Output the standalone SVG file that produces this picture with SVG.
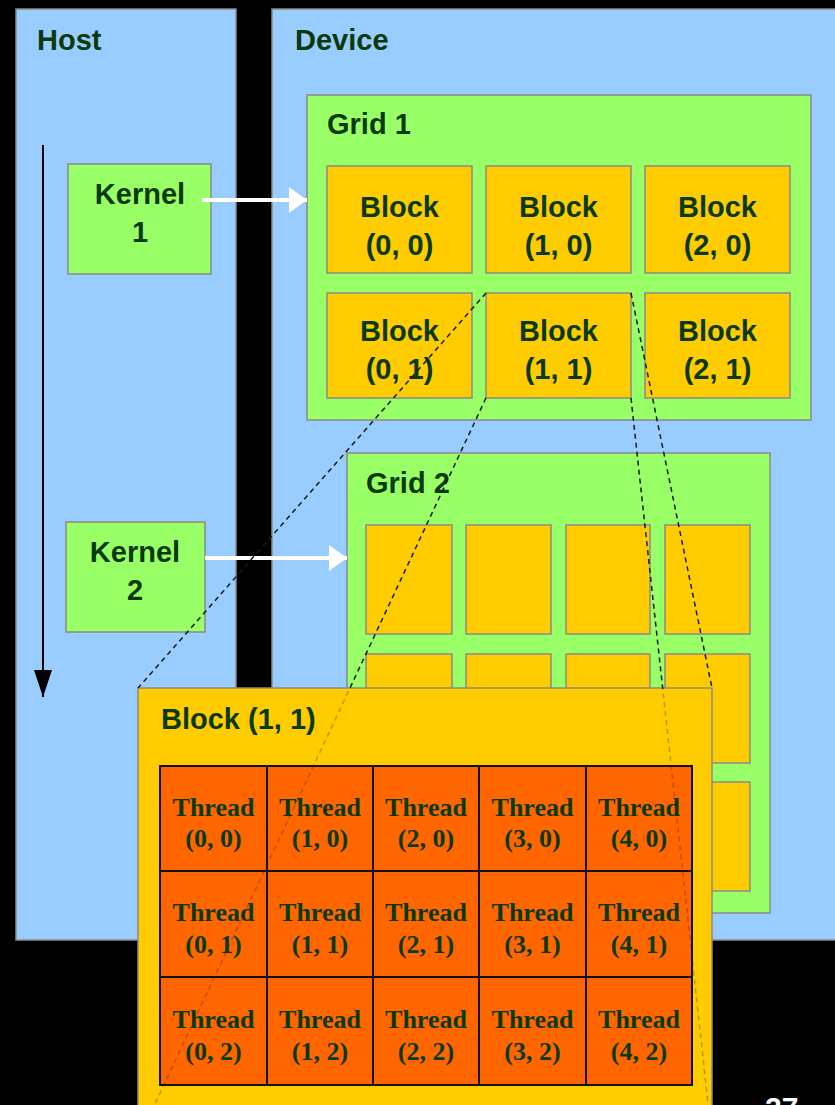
<svg xmlns="http://www.w3.org/2000/svg" width="835" height="1105" viewBox="0 0 835 1105">
  <style>
    .panel { fill: #99ccff; stroke: #8a8a8a; stroke-width: 1.5; }
    .grid { fill: #99ff66; stroke: #8a8a8a; stroke-width: 1.5; }
    .blk { fill: #ffcc00; stroke: #8a8a8a; stroke-width: 1.5; }
    .kern { fill: #99ff66; stroke: #8a8a8a; stroke-width: 1.5; }
    .cell { fill: #ff6600; stroke: #111; stroke-width: 2; }
    .lbl { font-family: "Liberation Sans", Arial, sans-serif; font-weight: bold; font-size: 29px; fill: #0a3a0a; }
    .mid { text-anchor: middle; }
    .thr { font-family: "Liberation Serif", "Times New Roman", serif; font-weight: bold; font-size: 26px; fill: #0a3a0a; text-anchor: middle; }
    .dash { fill: none; stroke: #1a1a1a; stroke-width: 1.5; stroke-dasharray: 5 4; }
    .warrow { stroke: #ffffff; stroke-width: 4; fill: none; }
  </style>
  <defs>
    <marker id="whead" markerUnits="userSpaceOnUse" markerWidth="18" markerHeight="26" refX="18" refY="13" orient="auto">
      <path d="M0,0 L18,13 L0,26 Z" fill="#ffffff"/>
    </marker>
    <marker id="bhead" markerUnits="userSpaceOnUse" markerWidth="18" markerHeight="27" refX="9" refY="27" orient="0">
      <path d="M0,0 L18,0 L9,27 Z" fill="#000000"/>
    </marker>
    <mask id="fadeMask" maskUnits="userSpaceOnUse" x="0" y="0" width="835" height="1105">
      <rect x="0" y="0" width="835" height="1105" fill="#ffffff"/>
      <rect x="139" y="689" width="573" height="460" fill="#4a4a4a"/>
    </mask>
  </defs>

  <rect x="0" y="0" width="835" height="1105" fill="#000000"/>

  <g id="host">
    <rect class="panel" x="16" y="9" width="220" height="931"/>
    <text class="lbl" x="37" y="50">Host</text>
  </g>
  <g id="device">
    <rect class="panel" x="272" y="9" width="570" height="931"/>
    <text class="lbl" x="295" y="50">Device</text>
  </g>

  <g id="time-arrow">
    <line x1="43" y1="145" x2="43" y2="697" stroke="#000" stroke-width="2" marker-end="url(#bhead)"/>
  </g>

  <g id="kernel1">
    <rect class="kern" x="68" y="164" width="143" height="110"/>
    <text class="lbl mid" x="140" y="204">Kernel</text>
    <text class="lbl mid" x="140" y="242">1</text>
  </g>
  <g id="kernel2">
    <rect class="kern" x="66" y="522" width="139" height="110"/>
    <text class="lbl mid" x="135" y="562">Kernel</text>
    <text class="lbl mid" x="135" y="600">2</text>
  </g>

  <g id="grid1">
    <rect class="grid" x="307" y="95" width="504" height="325"/>
    <text class="lbl" x="327" y="134">Grid 1</text>
  </g>
  <g id="g1-block-0-0">
    <rect class="blk" x="327" y="166" width="145" height="107"/>
    <text class="lbl mid" x="399.5" y="217">Block</text>
    <text class="lbl mid" x="399.5" y="255">(0, 0)</text>
  </g>
  <g id="g1-block-1-0">
    <rect class="blk" x="486" y="166" width="145" height="107"/>
    <text class="lbl mid" x="558.5" y="217">Block</text>
    <text class="lbl mid" x="558.5" y="255">(1, 0)</text>
  </g>
  <g id="g1-block-2-0">
    <rect class="blk" x="645" y="166" width="145" height="107"/>
    <text class="lbl mid" x="717.5" y="217">Block</text>
    <text class="lbl mid" x="717.5" y="255">(2, 0)</text>
  </g>
  <g id="g1-block-0-1">
    <rect class="blk" x="327" y="293" width="145" height="105"/>
    <text class="lbl mid" x="399.5" y="341">Block</text>
    <text class="lbl mid" x="399.5" y="379">(0, 1)</text>
  </g>
  <g id="g1-block-1-1">
    <rect class="blk" x="486" y="293" width="145" height="105"/>
    <text class="lbl mid" x="558.5" y="341">Block</text>
    <text class="lbl mid" x="558.5" y="379">(1, 1)</text>
  </g>
  <g id="g1-block-2-1">
    <rect class="blk" x="645" y="293" width="145" height="105"/>
    <text class="lbl mid" x="717.5" y="341">Block</text>
    <text class="lbl mid" x="717.5" y="379">(2, 1)</text>
  </g>

  <g id="grid2">
    <rect class="grid" x="347" y="453" width="423" height="460"/>
    <text class="lbl" x="366" y="493">Grid 2</text>
    <rect class="blk" x="366" y="525" width="86" height="109"/>
    <rect class="blk" x="466" y="525" width="85" height="109"/>
    <rect class="blk" x="566" y="525" width="84" height="109"/>
    <rect class="blk" x="665" y="525" width="85" height="109"/>
    <rect class="blk" x="366" y="654" width="86" height="109"/>
    <rect class="blk" x="466" y="654" width="85" height="109"/>
    <rect class="blk" x="566" y="654" width="84" height="109"/>
    <rect class="blk" x="665" y="654" width="85" height="109"/>
    <rect class="blk" x="366" y="782" width="86" height="109"/>
    <rect class="blk" x="466" y="782" width="85" height="109"/>
    <rect class="blk" x="566" y="782" width="84" height="109"/>
    <rect class="blk" x="665" y="782" width="85" height="109"/>
  </g>

  <g id="block-1-1-detail">
    <rect class="blk" x="138" y="688" width="574" height="460"/>
    <text class="lbl" x="161" y="729">Block (1, 1)</text>
    <g id="threads">
      <rect class="cell" x="160" y="766" width="107" height="105"/>
      <rect class="cell" x="267" y="766" width="106" height="105"/>
      <rect class="cell" x="373" y="766" width="106" height="105"/>
      <rect class="cell" x="479" y="766" width="107" height="105"/>
      <rect class="cell" x="586" y="766" width="106" height="105"/>
      <rect class="cell" x="160" y="871" width="107" height="106"/>
      <rect class="cell" x="267" y="871" width="106" height="106"/>
      <rect class="cell" x="373" y="871" width="106" height="106"/>
      <rect class="cell" x="479" y="871" width="107" height="106"/>
      <rect class="cell" x="586" y="871" width="106" height="106"/>
      <rect class="cell" x="160" y="977" width="107" height="108"/>
      <rect class="cell" x="267" y="977" width="106" height="108"/>
      <rect class="cell" x="373" y="977" width="106" height="108"/>
      <rect class="cell" x="479" y="977" width="107" height="108"/>
      <rect class="cell" x="586" y="977" width="106" height="108"/>

      <text class="thr" x="213.5" y="816">Thread</text><text class="thr" x="213.5" y="847">(0, 0)</text>
      <text class="thr" x="320" y="816">Thread</text><text class="thr" x="320" y="847">(1, 0)</text>
      <text class="thr" x="426" y="816">Thread</text><text class="thr" x="426" y="847">(2, 0)</text>
      <text class="thr" x="532.5" y="816">Thread</text><text class="thr" x="532.5" y="847">(3, 0)</text>
      <text class="thr" x="639" y="816">Thread</text><text class="thr" x="639" y="847">(4, 0)</text>

      <text class="thr" x="213.5" y="921">Thread</text><text class="thr" x="213.5" y="953">(0, 1)</text>
      <text class="thr" x="320" y="921">Thread</text><text class="thr" x="320" y="953">(1, 1)</text>
      <text class="thr" x="426" y="921">Thread</text><text class="thr" x="426" y="953">(2, 1)</text>
      <text class="thr" x="532.5" y="921">Thread</text><text class="thr" x="532.5" y="953">(3, 1)</text>
      <text class="thr" x="639" y="921">Thread</text><text class="thr" x="639" y="953">(4, 1)</text>

      <text class="thr" x="213.5" y="1028">Thread</text><text class="thr" x="213.5" y="1060">(0, 2)</text>
      <text class="thr" x="320" y="1028">Thread</text><text class="thr" x="320" y="1060">(1, 2)</text>
      <text class="thr" x="426" y="1028">Thread</text><text class="thr" x="426" y="1060">(2, 2)</text>
      <text class="thr" x="532.5" y="1028">Thread</text><text class="thr" x="532.5" y="1060">(3, 2)</text>
      <text class="thr" x="639" y="1028">Thread</text><text class="thr" x="639" y="1060">(4, 2)</text>
    </g>
  </g>

  <g id="connectors">
    <line class="warrow" x1="202" y1="200" x2="307" y2="200" marker-end="url(#whead)"/>
    <line class="warrow" x1="205" y1="558" x2="347" y2="558" marker-end="url(#whead)"/>
    <g mask="url(#fadeMask)">
      <line class="dash" x1="486" y1="293" x2="138" y2="688"/>
      <line class="dash" x1="486" y1="398" x2="138" y2="1140"/>
      <line class="dash" x1="631" y1="293" x2="712" y2="688"/>
      <line class="dash" x1="631" y1="398" x2="712" y2="1140"/>
    </g>
  </g>

  <text x="765" y="1118" font-family="Liberation Sans, Arial, sans-serif" font-weight="bold" font-size="30" fill="#ffffff">27</text>
</svg>
